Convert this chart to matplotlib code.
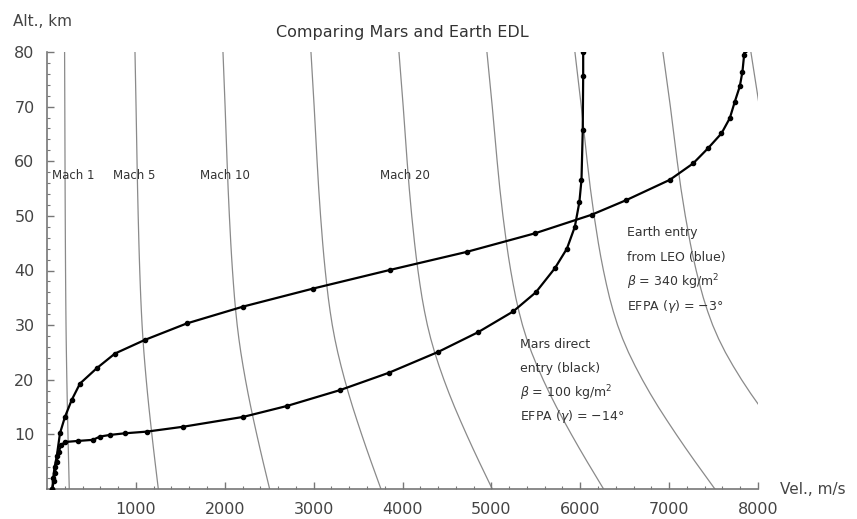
import matplotlib
matplotlib.use("Agg")
import matplotlib.pyplot as plt
import numpy as np

# ---- data ----
# Mars direct entry trajectory (velocity m/s, altitude km)
mars_vel = [60, 75, 90, 110, 130, 160, 200, 350, 517, 596, 709, 877, 1121, 1533,
            2208, 2700, 3296, 3850, 4402, 4850, 5245, 5500, 5714, 5850, 5939,
            5990, 6014, 6028, 6033, 6033]
mars_alt = [0, 1.5, 3, 5, 6.8, 8.0, 8.6, 8.8, 9.0, 9.6, 9.9, 10.2, 10.5, 11.4,
            13.2, 15.2, 18.1, 21.3, 25.1, 28.7, 32.5, 36.0, 40.4, 44.0, 48.0,
            52.5, 56.6, 65.7, 75.6, 80]

# Earth entry from LEO trajectory
earth_vel = [60, 70, 85, 110, 146, 202, 278, 371, 559, 765, 1102, 1571, 2208,
             2996, 3858, 4721, 5489, 6127, 6520, 7008, 7270, 7439, 7589, 7683,
             7739, 7795, 7825, 7844, 7850]
earth_alt = [0, 2, 4, 6, 10.2, 13.2, 16.3, 19.3, 22.1, 24.8, 27.3, 30.3, 33.4,
             36.7, 40.1, 43.4, 46.8, 50.2, 52.9, 56.6, 59.6, 62.4, 65.1, 67.9,
             70.9, 73.7, 76.4, 79.5, 80.3]

# speed of sound profile used for the Mach lines
sound_alt = [0, 2.5, 5, 7.5, 10, 12.5, 15, 17.5, 20, 22.5, 25, 27.5, 30, 32.5,
             35, 37.5, 40, 42.5, 45, 47.5, 50, 52.5, 55, 57.5, 60, 65, 70, 75, 80]
sound_speed = [250.5, 246.8, 243.1, 239.5, 236, 232.6, 229.3, 226.2, 223.3,
               220.6, 218.1, 215.9, 214, 212.4, 211, 209.8, 208.7, 207.7, 206.8,
               206, 205.2, 204.5, 203.8, 203.2, 202.6, 201.5, 200.4, 199.2, 198]
mach_numbers = [1, 5, 10, 15, 20, 25, 30, 35, 40]

mach_labels = ["Mach 1", "Mach 5", "Mach 10", "Mach 20"]
mach_label_vel = [56, 742, 1721, 3746]
mach_label_alt = 57.4

x_ticks = [1000, 2000, 3000, 4000, 5000, 6000, 7000, 8000]
y_ticks = [10, 20, 30, 40, 50, 60, 70, 80]

# ---- figure ----
fig = plt.figure(figsize=(8.57, 5.19), dpi=100)
ax = fig.add_axes([47/857, 30/519, 711/857, 437/519])
ax.set_xlim(0, 8000)
ax.set_ylim(0, 80)

grey = "#8a8a8a"
sa = np.array(sound_speed)
for m in mach_numbers:
    ax.plot(m * sa, sound_alt, color=grey, lw=0.9, zorder=1)

ax.plot(mars_vel, mars_alt, color="black", lw=1.6, marker="o", ms=3.0, zorder=3)
ax.plot(earth_vel, earth_alt, color="black", lw=1.6, marker="o", ms=3.0, zorder=3)

for lab, v in zip(mach_labels, mach_label_vel):
    ax.text(v, mach_label_alt, lab, fontsize=8.5, color="#333333",
            ha="left", va="center", zorder=4)

txtc = "#333333"
earth_lines = ["Earth entry", "from LEO (blue)", r"$\beta$ = 340 kg/m$^2$",
               r"EFPA ($\gamma$) = $-$3°"]
mars_lines = ["Mars direct", "entry (black)", r"$\beta$ = 100 kg/m$^2$",
              r"EFPA ($\gamma$) = $-$14°"]
for i, s in enumerate(earth_lines):
    ax.text(6524, 46.9 - i * 4.5, s, fontsize=9, color=txtc, ha="left", va="center")
for i, s in enumerate(mars_lines):
    ax.text(5320, 26.4 - i * 4.4, s, fontsize=9, color=txtc, ha="left", va="center")

# axes styling (Mathematica-like)
for s in ["top", "right"]:
    ax.spines[s].set_visible(False)
for s in ["left", "bottom"]:
    ax.spines[s].set_color("#777777")
    ax.spines[s].set_linewidth(1.2)

ax.set_xticks(x_ticks)
ax.set_yticks(y_ticks)
ax.set_xticks(np.arange(200, 8001, 200), minor=True)
ax.set_yticks(np.arange(2, 81, 2), minor=True)
ax.tick_params(axis="both", which="major", direction="in", length=5, width=1,
               color="#777777", labelsize=11.5, labelcolor="#444444", pad=9)
ax.tick_params(axis="both", which="minor", direction="in", length=2.5, width=0.8,
               color="#777777")

fig.text(780/857, 1 - 490/519, "Vel., m/s", fontsize=11, color="#444444",
         ha="left", va="center")
fig.text(13/857, 1 - 21/519, "Alt., km", fontsize=11, color="#444444",
         ha="left", va="center")
fig.text(402/857, 1 - 32/519, "Comparing Mars and Earth EDL", fontsize=11.5,
         color="#333333", ha="center", va="center")

fig.savefig("out.png", dpi=100)
